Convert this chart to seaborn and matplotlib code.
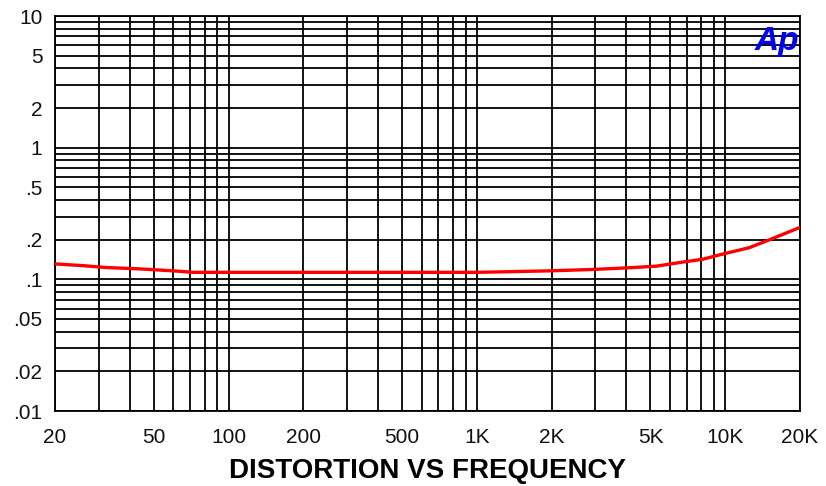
import matplotlib
matplotlib.use("Agg")
import matplotlib.pyplot as plt
import seaborn as sns
import pandas as pd
from matplotlib.ticker import FixedLocator, FixedFormatter, NullFormatter

freq = [20, 26, 32, 44, 60, 72, 100, 200, 500, 1000, 1970, 2970, 4300, 5300, 6700, 8100, 9700, 12500, 15000, 20000]
thd = [0.131, 0.127, 0.123, 0.120, 0.116, 0.113, 0.113, 0.113, 0.113, 0.113, 0.116, 0.119, 0.123, 0.126, 0.135, 0.142, 0.155, 0.174, 0.199, 0.248]

x_ticks = [20, 50, 100, 200, 500, 1000, 2000, 5000, 10000, 20000]
x_labels = ["20", "50", "100", "200", "500", "1K", "2K", "5K", "10K", "20K"]
y_ticks = [0.01, 0.02, 0.05, 0.1, 0.2, 0.5, 1, 2, 5, 10]
y_labels = [".01", ".02", ".05", ".1", ".2", ".5", "1", "2", "5", "10"]

sns.set_theme(style="white")
plt.rcParams['font.family'] = ['Liberation Sans', 'DejaVu Sans']

fig = plt.figure(figsize=(8.26, 4.86), dpi=100)
ax = fig.add_axes([55/826, 1-411/486, 745/826, 395/486])

df = pd.DataFrame({"freq": freq, "thd": thd})
ax.set_xscale("log")
ax.set_yscale("log")

# grid lines at every 1..9 per decade
xg = [m * 10**d for d in range(1, 5) for m in range(1, 10) if 20 <= m * 10**d <= 20000]
yg = [m * 10.0**d for d in range(-2, 2) for m in range(1, 10) if 0.01 <= m * 10.0**d <= 10]
for v in xg:
    ax.axvline(v, color="#000000", lw=1.3, zorder=1)
for v in yg:
    ax.axhline(v, color="#000000", lw=1.3, zorder=1)

sns.lineplot(data=df, x="freq", y="thd", ax=ax, color="#ff0000", lw=2.4, zorder=3)

ax.set_xlim(20, 20000)
ax.set_ylim(0.01, 10)
ax.xaxis.set_major_locator(FixedLocator(x_ticks))
ax.xaxis.set_major_formatter(FixedFormatter(x_labels))
ax.xaxis.set_minor_formatter(NullFormatter())
ax.yaxis.set_major_locator(FixedLocator(y_ticks))
ax.yaxis.set_major_formatter(FixedFormatter(y_labels))
ax.yaxis.set_minor_formatter(NullFormatter())
ax.tick_params(axis="both", which="both", length=0, labelsize=15, colors="#111111")
ax.tick_params(axis="x", pad=12)
ax.tick_params(axis="y", pad=9)

for s in ax.spines.values():
    s.set_color("#000000")
    s.set_linewidth(1.3)
    s.set_visible(True)

ax.set_ylabel("")
ax.set_xlabel("DISTORTION VS FREQUENCY", fontsize=20, fontweight="bold", color="#000000", labelpad=8)

ax.text(0.999, 0.935, "Ap", transform=ax.transAxes, ha="right", va="center",
        fontsize=24, fontweight="bold", fontstyle="italic", color="#0000ff", zorder=5)

fig.savefig("out.png", dpi=100, facecolor="white")
